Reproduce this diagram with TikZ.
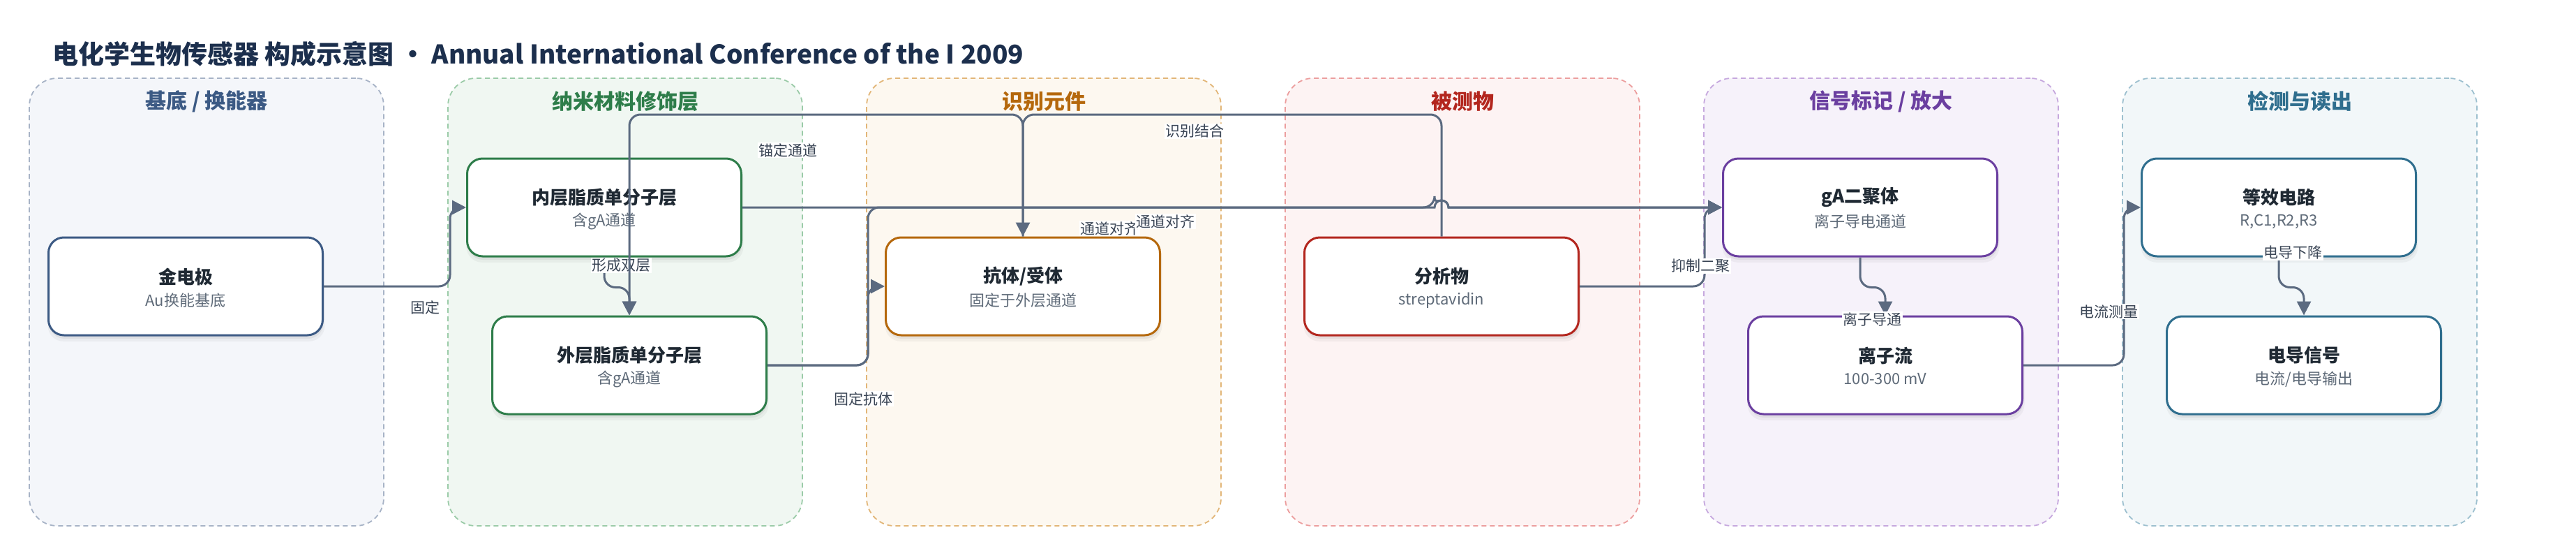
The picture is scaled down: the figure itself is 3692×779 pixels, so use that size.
\documentclass[tikz,border=0pt]{standalone}
\usepackage{fontspec}
\setmainfont{Noto Sans CJK SC}
\usetikzlibrary{arrows.meta,calc,shadows}
\definecolor{edgec}{HTML}{5B6A80}
\definecolor{elab}{HTML}{3A4555}
\definecolor{ntext}{HTML}{1F2933}
\definecolor{nsubc}{HTML}{5E6A78}
\definecolor{titlec}{HTML}{1C2F4D}
\definecolor{pAb}{HTML}{A7B3C6}\definecolor{pAf}{HTML}{F4F6FA}\definecolor{pAt}{HTML}{3C5A84}
\definecolor{pBb}{HTML}{9BCBA8}\definecolor{pBf}{HTML}{F0F7F2}\definecolor{pBt}{HTML}{2E7D4A}
\definecolor{pCb}{HTML}{E2B678}\definecolor{pCf}{HTML}{FDF8F0}\definecolor{pCt}{HTML}{B5680C}
\definecolor{pDb}{HTML}{EC9E9E}\definecolor{pDf}{HTML}{FDF3F3}\definecolor{pDt}{HTML}{B3261E}
\definecolor{pEb}{HTML}{C6A8DE}\definecolor{pEf}{HTML}{F6F2FA}\definecolor{pEt}{HTML}{6B3FA0}
\definecolor{pFb}{HTML}{9DC0CF}\definecolor{pFf}{HTML}{F2F7F9}\definecolor{pFt}{HTML}{2F6E8E}
\begin{document}
\begin{tikzpicture}[x=1pt,y=-1pt,
  panelbox/.style 2 args={draw=#1, fill=#2, dash pattern=on 7pt off 5pt, line width=1.8pt,
    rounded corners=40pt, minimum width=508pt, minimum height=641pt, inner sep=0pt},
  box/.style={draw=#1, line width=3pt, fill=white, rounded corners=22pt,
    minimum width=393pt, minimum height=140pt, inner sep=0pt,
    general shadow={fill=black, opacity=0.05, shadow xshift=1pt, shadow yshift=-5pt},
    general shadow={fill=black, opacity=0.04, shadow xshift=1pt, shadow yshift=-8pt, shadow scale=1.01}},
  ptitle/.style={font=\fontsize{30}{36}\selectfont\bfseries, text=#1},
  ntitle/.style={font=\fontsize{26}{30}\selectfont\bfseries, text=ntext, inner sep=0pt},
  nsub/.style={font=\fontsize{22}{26}\selectfont, text=nsubc, inner sep=0pt},
  conn/.style={draw=edgec, line width=3pt, rounded corners=16pt},
  arr/.style={conn, -{Triangle[length=20pt,width=20pt]}},
  elabel/.style={font=\fontsize{21}{25}\selectfont, text=elab, fill=white, inner sep=1.5pt},
]
\useasboundingbox (0,0) rectangle (3692,779);

% title
\node[anchor=west, font=\fontsize{37}{44}\selectfont\bfseries, text=titlec, inner sep=0pt] (title) at (75,77)
  {电化学生物传感器 构成示意图 · Annual International Conference of the I 2009};

% panels
\node[panelbox={pAb}{pAf}] (P1) at (296,432.5) {};
\node[panelbox={pBb}{pBf}] (P2) at (896,432.5) {};
\node[panelbox={pCb}{pCf}] (P3) at (1496,432.5) {};
\node[panelbox={pDb}{pDf}] (P4) at (2096,432.5) {};
\node[panelbox={pEb}{pEf}] (P5) at (2696,432.5) {};
\node[panelbox={pFb}{pFf}] (P6) at (3296,432.5) {};
\node[ptitle=pAt] (T1) at (296,145) {基底 / 换能器};
\node[ptitle=pBt] (T2) at (896,145) {纳米材料修饰层};
\node[ptitle=pCt] (T3) at (1496,145) {识别元件};
\node[ptitle=pDt] (T4) at (2096,145) {被测物};
\node[ptitle=pEt] (T5) at (2696,145) {信号标记 / 放大};
\node[ptitle=pFt] (T6) at (3296,145) {检测与读出};

% nodes
\node[box=pAt] (gold) at (266,410) {};
\node[box=pBt] (inner) at (866,297) {};
\node[box=pBt] (outer) at (902,523) {};
\node[box=pCt] (ab) at (1466,410) {};
\node[box=pDt] (ana) at (2066,410) {};
\node[box=pEt] (gA) at (2666,297) {};
\node[box=pEt] (ion) at (2702,523) {};
\node[box=pFt] (eq) at (3266,297) {};
\node[box=pFt] (cond) at (3302,523) {};

\foreach \n/\t/\s in {gold/金电极/Au换能基底, inner/内层脂质单分子层/含gA通道, outer/外层脂质单分子层/含gA通道,
  ab/抗体\slash 受体/固定于外层通道, ana/分析物/streptavidin, gA/gA二聚体/离子导电通道,
  ion/离子流/100-300 mV, eq/等效电路/{R,C1,R2,R3}, cond/电导信号/电流\slash 电导输出}{
  \node[ntitle] (\n-t) at ($(\n.center)+(0,-14)$) {\t};
  \node[nsub] (\n-s) at ($(\n.center)+(0,20)$) {\s};
}

% connectors
\coordinate (topy) at (0,164);
\coordinate (jmp) at (ana.north |- gA.west);
\draw[arr] (gold.east) -- ++(181,0) |- (inner.west);
\node[elabel] (l1) at (609,440) {固定};
\draw[arr] (inner.south) -- ++(0,43) -| (outer.north);
\node[elabel] (l2) at (890,380) {形成双层};
\draw[arr] (ab.north) -- (ab.north |- topy) -| (outer.north);
\draw[arr] (ana.north) -- (ana.north |- topy) -| (ab.north);
\draw[arr] (outer.east) -- ++(144,0) |- ([xshift=-10pt]jmp) [sharp corners] arc[start angle=180, end angle=360, radius=10] -- (gA.west);
\draw[arr] (outer.east) -- ++(144,0) |- (ab.west);
\draw[arr, sharp corners] (inner.east) -- ([xshift=-10pt]jmp) arc[start angle=180, end angle=360, radius=10] -- (gA.west);
\draw[arr] (ana.east) -- ++(179,0) |- (gA.west);
\draw[arr] (gA.south) -- ++(0,43) -| (ion.north);
\draw[arr] (ion.east) -- ++(144,0) |- (eq.west);
\draw[arr] (eq.south) -- ++(0,43) -| (cond.north);

% connector labels
\node[elabel] (l3) at (1129,215) {锚定通道};
\node[elabel] (l4) at (1712,188) {识别结合};
\node[elabel] (l5) at (1237,571) {固定抗体};
\node[elabel] (l6) at (1590,327) {通道对齐};
\node[elabel] (l7) at (1670,317) {通道对齐};
\node[elabel] (l8) at (2437,381) {抑制二聚};
\node[elabel] (l9) at (2683,457) {离子导通};
\node[elabel] (l10) at (3022,446) {电流测量};
\node[elabel] (l11) at (3286,362) {电导下降};
\end{tikzpicture}
\end{document}
